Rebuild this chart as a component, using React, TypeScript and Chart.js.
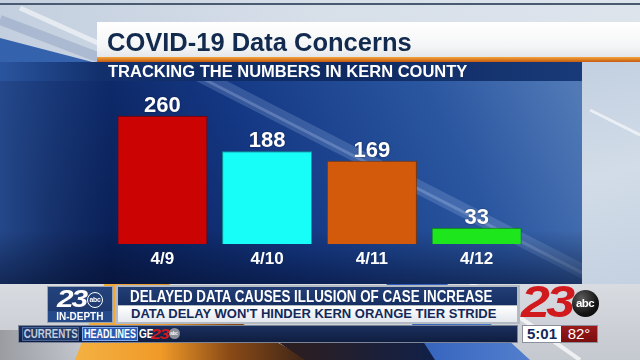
import React, { useEffect, useRef } from "react";
import { Chart, registerables } from "chart.js";

Chart.register(...registerables);

// ---- data ----
const categories = ["4/9", "4/10", "4/11", "4/12"];
const cases = [260, 188, 169, 33];
const barColors = ["#cc0303", "#17fdf7", "#d35a0a", "#1de61d"];
const barEdges = ["#6e0202", "#0b9c98", "#7e3606", "#0b7a0b"];
const yMax = 300;

const titleText = "COVID-19 Data Concerns";
const subtitleText = "TRACKING THE NUMBERS IN KERN COUNTY";
const headline1 = "DELAYED DATA CAUSES ILLUSION OF CASE INCREASE";
const headline2 = "DATA DELAY WON'T HINDER KERN ORANGE TIER STRIDE";
const timeText = "5:01";
const tempText = "82°";

const SANS = '"Liberation Sans", Arial, Helvetica, sans-serif';

function poly(ctx: CanvasRenderingContext2D, pts: number[][], fill: any) {
  ctx.fillStyle = fill;
  ctx.beginPath();
  ctx.moveTo(pts[0][0], pts[0][1]);
  for (let i = 1; i < pts.length; i++) ctx.lineTo(pts[i][0], pts[i][1]);
  ctx.closePath();
  ctx.fill();
}

const backgroundPlugin = {
  id: "tvBackground",
  beforeDraw(chart: any) {
    const ctx: CanvasRenderingContext2D = chart.ctx;
    const W = chart.width;
    const H = chart.height;
    ctx.save();
    // top light area
    const tg = ctx.createLinearGradient(0, 0, W, 0);
    tg.addColorStop(0, "#c3cfdf");
    tg.addColorStop(0.5, "#d7dfe9");
    tg.addColorStop(1, "#dde4ec");
    ctx.fillStyle = tg;
    ctx.fillRect(0, 0, W, 64);
    ctx.fillStyle = "#4a5a70";
    ctx.fillRect(0, 3, W, 2);
    poly(ctx, [[0, 38], [100, 64], [0, 64]], "#3562ad");
    ctx.strokeStyle = "rgba(255,255,255,0.55)";
    ctx.lineWidth = 5;
    ctx.beginPath();
    ctx.moveTo(20, 8);
    ctx.lineTo(100, 44);
    ctx.stroke();
    ctx.strokeStyle = "rgba(120,140,180,0.35)";
    ctx.lineWidth = 10;
    ctx.beginPath();
    ctx.moveTo(0, 20);
    ctx.lineTo(100, 58);
    ctx.stroke();

    // bottom area (behind lower third)
    const bb = ctx.createLinearGradient(0, 278, 0, H);
    bb.addColorStop(0, "#dadde2");
    bb.addColorStop(1, "#c4c8cf");
    ctx.fillStyle = bb;
    ctx.fillRect(0, 278, W, H - 278);
    const gl = ctx.createLinearGradient(0, 0, 90, 0);
    gl.addColorStop(0, "#9a9ca2");
    gl.addColorStop(1, "rgba(154,156,162,0)");
    poly(ctx, [[0, 330], [90, 330], [90, 360], [0, 360]], gl);
    const og = ctx.createLinearGradient(80, 0, 310, 0);
    og.addColorStop(0, "#f3b040");
    og.addColorStop(0.35, "#f09a28");
    og.addColorStop(0.65, "#8a4a16");
    og.addColorStop(1, "#3a2418");
    poly(ctx, [[105, 282], [165, 282], [310, 360], [75, 360]], og);
    const dg = ctx.createLinearGradient(300, 0, 440, 0);
    dg.addColorStop(0, "#2a1e22");
    dg.addColorStop(1, "#10204a");
    poly(ctx, [[260, 330], [420, 330], [440, 360], [305, 360]], dg);
    const blg = ctx.createLinearGradient(380, 0, 560, 0);
    blg.addColorStop(0, "#2a5ab8");
    blg.addColorStop(1, "#5b86d2");
    poly(ctx, [[385, 282], [445, 282], [530, 360], [435, 360]], blg);
    ctx.strokeStyle = "rgba(255,255,255,0.7)";
    ctx.lineWidth = 4;
    ctx.beginPath();
    ctx.moveTo(470, 282);
    ctx.lineTo(580, 360);
    ctx.stroke();

    // main blue panel
    const pg = ctx.createLinearGradient(80, 290, 560, 60);
    pg.addColorStop(0, "#07194a");
    pg.addColorStop(0.4, "#143783");
    pg.addColorStop(0.75, "#2a56a0");
    pg.addColorStop(1, "#5079b6");
    ctx.fillStyle = pg;
    ctx.fillRect(0, 62, 582, 222);
    const lg = ctx.createLinearGradient(0, 0, 110, 0);
    lg.addColorStop(0, "rgba(60,110,190,0.55)");
    lg.addColorStop(1, "rgba(60,110,190,0)");
    ctx.fillStyle = lg;
    ctx.fillRect(0, 62, 110, 222);
    ctx.save();
    ctx.beginPath();
    ctx.rect(0, 62, 582, 222);
    ctx.clip();
    ctx.strokeStyle = "rgba(170,195,235,0.22)";
    ctx.lineWidth = 14;
    ctx.beginPath();
    ctx.moveTo(190, 70);
    ctx.lineTo(600, 280);
    ctx.stroke();
    ctx.strokeStyle = "rgba(200,220,250,0.25)";
    ctx.lineWidth = 3;
    ctx.beginPath();
    ctx.moveTo(190, 72);
    ctx.lineTo(600, 282);
    ctx.stroke();
    const bg2 = ctx.createLinearGradient(0, 230, 0, 284);
    bg2.addColorStop(0, "rgba(5,15,45,0)");
    bg2.addColorStop(1, "rgba(5,15,45,0.55)");
    ctx.fillStyle = bg2;
    ctx.fillRect(0, 230, 582, 54);
    ctx.restore();

    // right light area
    const rg = ctx.createLinearGradient(582, 62, 640, 284);
    rg.addColorStop(0, "#c2d0e1");
    rg.addColorStop(0.5, "#d2dce8");
    rg.addColorStop(1, "#c4d1e1");
    ctx.fillStyle = rg;
    ctx.fillRect(582, 62, 58, 222);
    ctx.strokeStyle = "rgba(255,255,255,0.6)";
    ctx.lineWidth = 3;
    ctx.beginPath();
    ctx.moveTo(590, 110);
    ctx.lineTo(640, 135);
    ctx.stroke();
    ctx.restore();
  },
};

const valueLabelPlugin = {
  id: "valueLabels",
  afterDatasetsDraw(chart: any) {
    const ctx: CanvasRenderingContext2D = chart.ctx;
    const meta = chart.getDatasetMeta(0);
    const values = chart.data.datasets[0].data as number[];
    ctx.save();
    ctx.fillStyle = "#ffffff";
    ctx.font = `bold 22px ${SANS}`;
    ctx.textAlign = "center";
    ctx.textBaseline = "alphabetic";
    ctx.shadowColor = "rgba(0,0,0,0.45)";
    ctx.shadowBlur = 2;
    meta.data.forEach((bar: any, i: number) => {
      ctx.fillText(String(values[i]), bar.x, bar.y - 4);
    });
    ctx.restore();
  },
};

function Digits23({ x, y, h, w, color }: any) {
  const fs = h / 0.72;
  return (
    <div
      style={{
        position: "absolute",
        left: x,
        top: y - fs * 0.19,
        fontFamily: SANS,
        fontWeight: 900,
        fontStyle: "italic",
        fontSize: fs,
        lineHeight: `${fs}px`,
        color,
        whiteSpace: "nowrap",
        letterSpacing: -fs * 0.07,
        transform: `scaleX(${w / (fs * 1.04)})`,
        transformOrigin: "left top",
      }}
    >
      23
    </div>
  );
}

function AbcCircle({ cx, cy, r, bg, fg, border }: any) {
  return (
    <div
      style={{
        position: "absolute",
        left: cx - r,
        top: cy - r,
        width: r * 2,
        height: r * 2,
        borderRadius: "50%",
        background: bg,
        border: border || "none",
        boxSizing: "border-box",
        color: fg,
        fontFamily: SANS,
        fontWeight: 700,
        fontSize: r * 0.85,
        lineHeight: `${r * 2 - (border ? 2 : 0)}px`,
        textAlign: "center",
        letterSpacing: -r * 0.04,
      }}
    >
      abc
    </div>
  );
}

function Squeezed({ text, sx, style }: any) {
  return (
    <div style={{ ...style, overflow: "hidden", textAlign: "center" }}>
      <span
        style={{
          display: "inline-block",
          transform: `scaleX(${sx})`,
          transformOrigin: "center",
          whiteSpace: "nowrap",
          margin: "0 -20px",
        }}
      >
        {text}
      </span>
    </div>
  );
}

export default function App() {
  const ref = useRef<HTMLCanvasElement>(null);

  useEffect(() => {
    const chart = new Chart(ref.current as HTMLCanvasElement, {
      type: "bar",
      data: {
        labels: categories,
        datasets: [
          {
            data: cases,
            backgroundColor: barColors,
            borderColor: barEdges,
            borderWidth: 1,
            barPercentage: 0.86,
            categoryPercentage: 1,
          },
        ],
      },
      options: {
        responsive: false,
        animation: false,
        events: [],
        layout: { padding: { left: 110, right: 111, top: 96, bottom: 86 } },
        plugins: {
          legend: { display: false },
          tooltip: { enabled: false },
          title: { display: false },
        },
        scales: {
          x: {
            grid: { display: false, drawTicks: false },
            border: { display: false },
            ticks: {
              color: "#ffffff",
              padding: 5,
              font: { family: SANS, size: 17, weight: "bold" },
            },
            afterFit: (s: any) => {
              s.height = 30;
            },
          },
          y: { display: false, min: 0, max: yMax },
        },
      },
      plugins: [backgroundPlugin, valueLabelPlugin],
    } as any);
    return () => chart.destroy();
  }, []);

  return (
    <div
      style={{
        position: "fixed",
        left: 0,
        top: 0,
        width: 640,
        height: 360,
        overflow: "hidden",
        fontFamily: SANS,
      }}
    >
      <canvas
        ref={ref}
        width={640}
        height={360}
        style={{ position: "absolute", left: 0, top: 0, width: 640, height: 360 }}
      />

      {/* title banner */}
      <div
        style={{
          position: "absolute",
          left: 97,
          top: 22,
          width: 543,
          height: 35,
          background: "linear-gradient(to bottom, #ffffff 0%, #f4f5f6 70%, #e4e6e9 100%)",
        }}
      />
      <div
        style={{
          position: "absolute",
          left: 97,
          top: 57,
          width: 543,
          height: 5,
          background: "linear-gradient(to bottom, #f2a43a, #c85a10)",
        }}
      />
      <div
        style={{
          position: "absolute",
          left: 107,
          top: 27,
          lineHeight: "30px",
          fontSize: 25.5,
          fontWeight: 700,
          color: "#112a4e",
          whiteSpace: "nowrap",
        }}
      >
        {titleText}
      </div>

      {/* subtitle band */}
      <div
        style={{
          position: "absolute",
          left: 0,
          top: 62,
          width: 582,
          height: 19,
          background: "linear-gradient(to right, #2a559e 0%, #12306c 17%, #0f2a62 60%, #183a78 100%)",
        }}
      />
      <div
        style={{
          position: "absolute",
          left: 108,
          top: 62,
          lineHeight: "18px",
          fontSize: 16.5,
          fontWeight: 700,
          color: "#ffffff",
          whiteSpace: "nowrap",
        }}
      >
        {subtitleText}
      </div>

      {/* lower third: left logo box */}
      <div
        style={{
          position: "absolute",
          left: 47,
          top: 286,
          width: 66,
          height: 37,
          background: "linear-gradient(to bottom, #24437c, #1a356a)",
          border: "1px solid #9aa3b2",
          boxSizing: "border-box",
        }}
      />
      <Digits23 x={57} y={292} h={17} w={31} color="#ffffff" />
      <AbcCircle cx={95} cy={300} r={8} bg="transparent" fg="#ffffff" border="1.5px solid #ffffff" />
      <Squeezed
        text="IN-DEPTH"
        sx={0.95}
        style={{
          position: "absolute",
          left: 48,
          top: 311,
          width: 64,
          height: 11,
          background: "#244a8c",
          color: "#ffffff",
          fontSize: 10.5,
          fontWeight: 700,
          lineHeight: "11px",
        }}
      />

      {/* headline box */}
      <div
        style={{
          position: "absolute",
          left: 115,
          top: 285,
          width: 405,
          height: 39,
          background: "#b4bac4",
        }}
      />
      <div
        style={{
          position: "absolute",
          left: 118,
          top: 287,
          width: 399,
          height: 18,
          background: "linear-gradient(to bottom, #233f76, #162f62)",
        }}
      />
      <div
        style={{
          position: "absolute",
          left: 130,
          top: 287,
          color: "#ffffff",
          fontWeight: 700,
          fontSize: 16.5,
          lineHeight: "18px",
          whiteSpace: "nowrap",
          transform: "scaleX(0.81)",
          transformOrigin: "left top",
        }}
      >
        {headline1}
      </div>
      <div
        style={{
          position: "absolute",
          left: 118,
          top: 306,
          width: 399,
          height: 16,
          background: "linear-gradient(to bottom, #ffffff, #e3e7ed)",
          color: "#13295a",
          fontWeight: 700,
          fontSize: 13,
          lineHeight: "16px",
          whiteSpace: "nowrap",
          paddingLeft: 13,
          boxSizing: "border-box",
        }}
      >
        {headline2}
      </div>

      {/* right big logo */}
      <Digits23 x={521} y={288} h={32} w={54} color="#d01a1e" />
      <AbcCircle
        cx={585}
        cy={303}
        r={13.5}
        bg="radial-gradient(circle at 35% 30%, #5a5a5a 0%, #151515 60%, #000 100%)"
        fg="#ffffff"
      />

      {/* ticker */}
      <div
        style={{
          position: "absolute",
          left: 18,
          top: 325,
          width: 500,
          height: 18,
          background: "linear-gradient(to bottom, #1b2f5e, #0f1d40)",
          border: "1px solid #7c8498",
          boxSizing: "border-box",
        }}
      />
      <Squeezed
        text="CURRENTS"
        sx={0.78}
        style={{
          position: "absolute",
          left: 22,
          top: 327,
          width: 57,
          height: 14,
          background: "#203a6c",
          border: "1px solid #4a6496",
          boxSizing: "border-box",
          color: "#c3ccdb",
          fontWeight: 700,
          fontSize: 12.5,
          lineHeight: "12px",
        }}
      />
      <Squeezed
        text="HEADLINES"
        sx={0.72}
        style={{
          position: "absolute",
          left: 82,
          top: 327,
          width: 56,
          height: 14,
          background: "#2c5ab0",
          border: "1px solid #7eaaf0",
          boxSizing: "border-box",
          color: "#ffffff",
          fontWeight: 700,
          fontSize: 12.5,
          lineHeight: "12px",
        }}
      />
      <div
        style={{
          position: "absolute",
          left: 139,
          top: 327,
          color: "#ffffff",
          fontWeight: 700,
          fontSize: 12.5,
          lineHeight: "14px",
          transform: "scaleX(0.8)",
          transformOrigin: "left top",
        }}
      >
        GE
      </div>
      <Digits23 x={151} y={329} h={11} w={19} color="#d01a1e" />
      <AbcCircle cx={174} cy={333} r={5.5} bg="#8a8f99" fg="#ffffff" />

      {/* time & temp */}
      <div
        style={{
          position: "absolute",
          left: 522,
          top: 325,
          width: 76,
          height: 18,
          background: "#8a8f99",
        }}
      />
      <div
        style={{
          position: "absolute",
          left: 523,
          top: 326,
          width: 38,
          height: 16,
          background: "#ffffff",
          color: "#13295a",
          fontWeight: 700,
          fontSize: 15,
          lineHeight: "16px",
          textAlign: "center",
        }}
      >
        {timeText}
      </div>
      <div
        style={{
          position: "absolute",
          left: 561,
          top: 326,
          width: 36,
          height: 16,
          background: "linear-gradient(to bottom, #9a1a1a, #7a0e0e)",
          color: "#ffffff",
          fontSize: 15,
          lineHeight: "16px",
          textAlign: "center",
        }}
      >
        {tempText}
      </div>
    </div>
  );
}
